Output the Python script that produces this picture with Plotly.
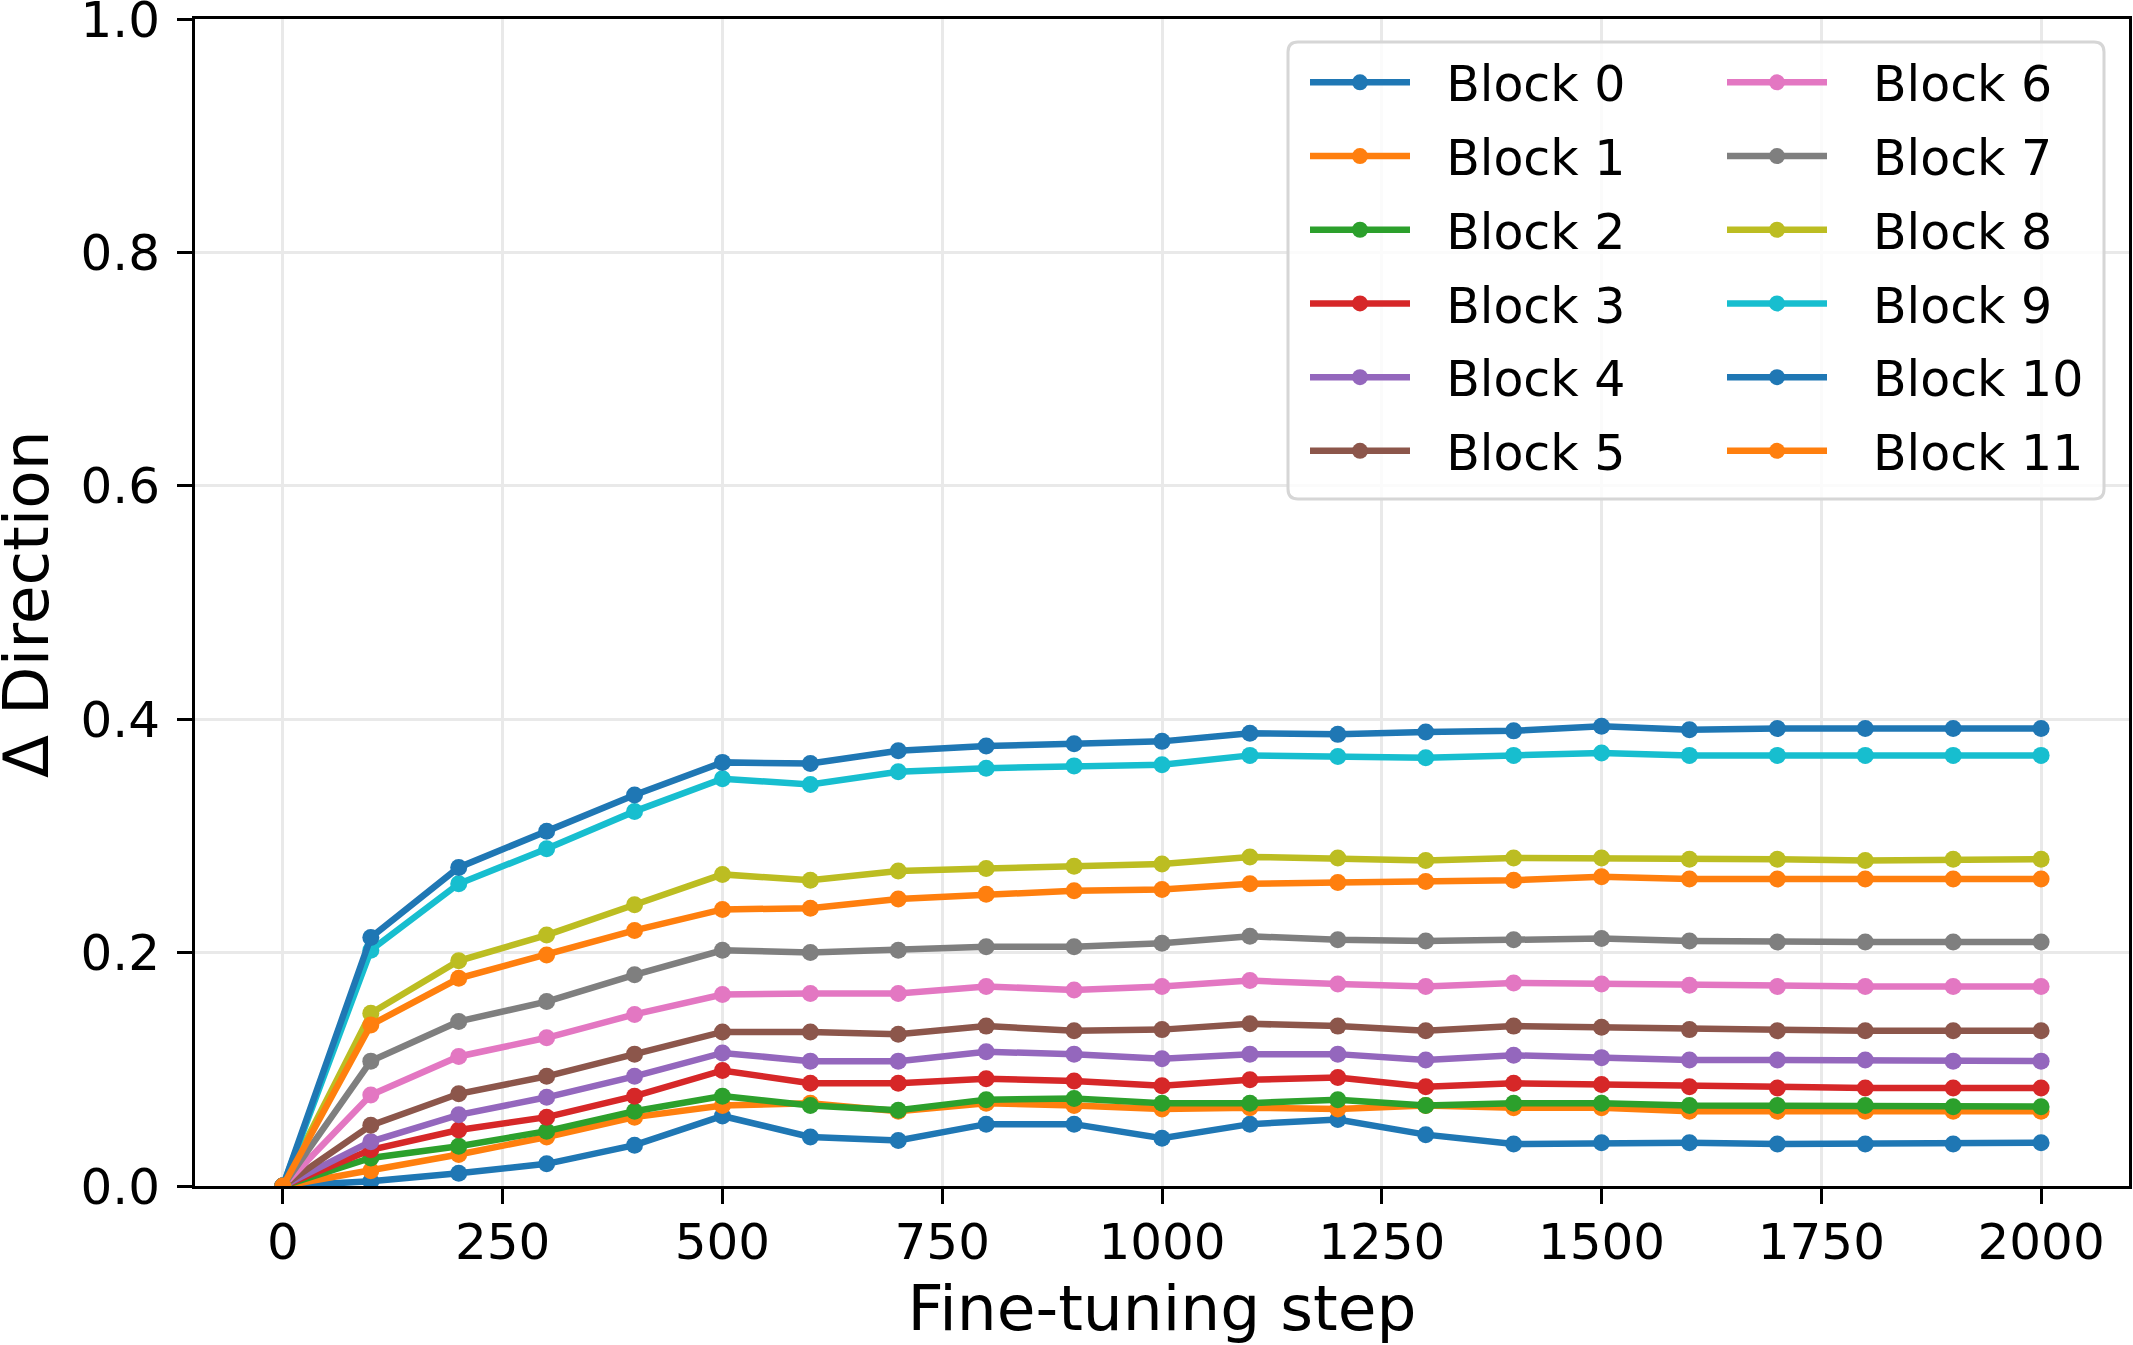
import plotly.graph_objects as go

steps = list(range(0, 2001, 100))
block_names = [f"Block {i}" for i in range(12)]
block_0 = [0, 0.004, 0.011, 0.019, 0.035, 0.060, 0.042, 0.039, 0.053, 0.053, 0.041, 0.053, 0.057, 0.044, 0.036, 0.037, 0.037, 0.036, 0.036, 0.036, 0.037]
block_1 = [0, 0.013, 0.027, 0.042, 0.059, 0.069, 0.071, 0.064, 0.071, 0.069, 0.066, 0.067, 0.066, 0.069, 0.067, 0.067, 0.064, 0.064, 0.064, 0.064, 0.064]
block_2 = [0, 0.024, 0.034, 0.047, 0.064, 0.077, 0.069, 0.065, 0.074, 0.075, 0.071, 0.071, 0.074, 0.069, 0.071, 0.071, 0.069, 0.069, 0.069, 0.068, 0.068]
block_3 = [0, 0.031, 0.048, 0.059, 0.077, 0.099, 0.088, 0.088, 0.092, 0.090, 0.086, 0.091, 0.093, 0.085, 0.088, 0.087, 0.085, 0.084, 0.084, 0.084, 0.084]
block_4 = [0, 0.038, 0.061, 0.076, 0.094, 0.114, 0.107, 0.107, 0.115, 0.113, 0.109, 0.113, 0.113, 0.108, 0.112, 0.110, 0.108, 0.108, 0.108, 0.107, 0.107]
block_5 = [0, 0.052, 0.079, 0.094, 0.113, 0.132, 0.132, 0.130, 0.137, 0.133, 0.134, 0.139, 0.137, 0.133, 0.137, 0.136, 0.134, 0.133, 0.133, 0.133, 0.133]
block_6 = [0, 0.078, 0.111, 0.127, 0.147, 0.164, 0.165, 0.165, 0.171, 0.168, 0.171, 0.176, 0.173, 0.171, 0.174, 0.173, 0.172, 0.171, 0.171, 0.171, 0.171]
block_7 = [0, 0.107, 0.141, 0.158, 0.181, 0.202, 0.200, 0.202, 0.205, 0.205, 0.208, 0.214, 0.211, 0.210, 0.211, 0.212, 0.210, 0.209, 0.209, 0.209, 0.209]
block_8 = [0, 0.148, 0.193, 0.215, 0.241, 0.267, 0.262, 0.270, 0.272, 0.274, 0.276, 0.282, 0.281, 0.279, 0.281, 0.281, 0.280, 0.280, 0.279, 0.280, 0.280]
block_9 = [0, 0.202, 0.259, 0.289, 0.321, 0.349, 0.344, 0.355, 0.358, 0.360, 0.361, 0.369, 0.368, 0.367, 0.369, 0.371, 0.369, 0.369, 0.369, 0.369, 0.369]
block_10 = [0, 0.213, 0.273, 0.304, 0.335, 0.363, 0.362, 0.373, 0.377, 0.379, 0.381, 0.388, 0.387, 0.389, 0.390, 0.394, 0.391, 0.392, 0.392, 0.392, 0.392]
block_11 = [0, 0.138, 0.178, 0.198, 0.219, 0.237, 0.238, 0.246, 0.250, 0.253, 0.254, 0.259, 0.260, 0.261, 0.262, 0.265, 0.263, 0.263, 0.263, 0.263, 0.263]
series = [block_0, block_1, block_2, block_3, block_4, block_5,
          block_6, block_7, block_8, block_9, block_10, block_11]
colors = ["#1f77b4", "#ff7f0e", "#2ca02c", "#d62728", "#9467bd", "#8c564b",
          "#e377c2", "#7f7f7f", "#bcbd22", "#17becf", "#1f77b4", "#ff7f0e"]
x_ticks = [0, 250, 500, 750, 1000, 1250, 1500, 1750, 2000]
y_ticks = [0.0, 0.2, 0.4, 0.6, 0.8, 1.0]
x_title = "Fine-tuning step"
y_title = "Δ Direction"

FONT = "DejaVu Sans"
GAP_LEFT = "\u00a0\u00a0"            # visual gap between legend symbol and label
GAP_RIGHT = "\u00a0\u00a0\u2009"

fig = go.Figure()
for i, (name, vals, col) in enumerate(zip(block_names, series, colors)):
    fig.add_trace(go.Scatter(
        x=steps, y=vals, name=(GAP_LEFT if i < 6 else GAP_RIGHT) + name,
        mode="lines+markers",
        line=dict(color=col, width=6.5),
        marker=dict(color=col, size=17),
        legend="legend" if i < 6 else "legend2",
        legendgroup=name,
    ))

W, H = 2133, 1345
L, R, T, B = 195, 4, 19, 159
pw, ph = W - L - R, H - T - B

def px(xp):
    return (xp - L) / pw

def py(yp):
    return (H - B - yp) / ph

# legend frame (rounded)
x0, x1, y0, y1 = px(1288), px(2104), py(499), py(42)
rx, ry = 10 / pw, 10 / ph
path = (f"M{x0+rx},{y1} L{x1-rx},{y1} Q{x1},{y1} {x1},{y1-ry} "
        f"L{x1},{y0+ry} Q{x1},{y0} {x1-rx},{y0} L{x0+rx},{y0} "
        f"Q{x0},{y0} {x0},{y0+ry} L{x0},{y1-ry} Q{x0},{y1} {x0+rx},{y1} Z")
fig.add_shape(type="path", path=path, xref="paper", yref="paper",
              fillcolor="rgba(255,255,255,0.8)", line=dict(color="#d6d6d6", width=3),
              layer="above")

# y-axis title
fig.add_annotation(text=y_title, xref="paper", yref="paper",
                   x=px(26), y=py(604), xanchor="center", yanchor="middle",
                   textangle=-90, showarrow=False,
                   font=dict(family=FONT, size=63, color="black"))

leg_common = dict(font=dict(family=FONT, size=49, color="black"),
                  bgcolor="rgba(0,0,0,0)", borderwidth=0,
                  traceorder="grouped", tracegroupgap=7, itemwidth=100,
                  xanchor="left", yanchor="top")

fig.update_layout(
    width=W, height=H,
    margin=dict(l=L, r=R, t=T, b=B, autoexpand=False),
    paper_bgcolor="white", plot_bgcolor="white",
    font=dict(family=FONT, size=50, color="black"),
    showlegend=True,
    legend=dict(x=px(1305), y=py(44), **leg_common),
    legend2=dict(x=px(1722), y=py(44), **leg_common),
    xaxis=dict(
        range=[-100, 2100], tickvals=x_ticks, ticktext=[str(v) for v in x_ticks],
        showgrid=True, gridcolor="#e9e9e9", gridwidth=3,
        showline=True, linecolor="black", linewidth=3, mirror=True,
        ticks="outside", ticklen=15, tickwidth=3, tickcolor="black",
        tickfont=dict(family=FONT, size=50, color="black"),
        ticklabelstandoff=-5, ticklabeloverflow="allow",
        zeroline=False,
        title=dict(text=x_title, font=dict(family=FONT, size=63, color="black"), standoff=16),
    ),
    yaxis=dict(
        range=[0, 1.0], tickvals=y_ticks, ticktext=[f"{v:.1f}" for v in y_ticks],
        showgrid=True, gridcolor="#e9e9e9", gridwidth=3,
        showline=True, linecolor="black", linewidth=3, mirror=True,
        ticks="outside", ticklen=15, tickwidth=3, tickcolor="black",
        tickfont=dict(family=FONT, size=50, color="black"),
        ticklabelstandoff=7, ticklabeloverflow="allow",
        zeroline=False,
    ),
)

fig.write_html("out.html")
